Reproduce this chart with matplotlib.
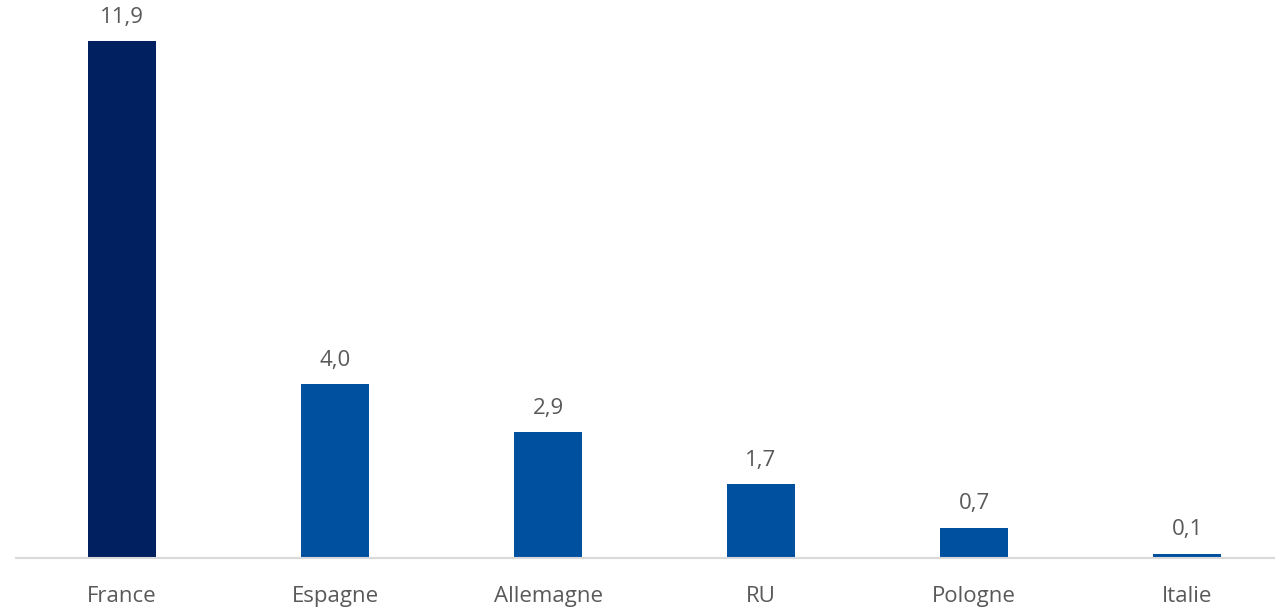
import matplotlib.pyplot as plt

categories = ["France", "Espagne", "Allemagne", "RU", "Pologne", "Italie"]
values = [11.9, 4.0, 2.9, 1.7, 0.7, 0.1]
labels = ["11,9", "4,0", "2,9", "1,7", "0,7", "0,1"]

bar_colors = ["#002060"] + ["#0050A0"] * 5
text_color = "#595959"

plt.rcParams['font.family'] = ['Open Sans', 'DejaVu Sans']

fig = plt.figure(figsize=(12.75, 6.07), dpi=100)
# axis spans slots of ~213px, first slot starts at x=15.5
ax = fig.add_axes([15.5 / 1275, 49 / 607, 1278 / 1275, 558 / 607])

x = list(range(len(categories)))
ax.bar(x, values, width=0.315, color=bar_colors)
ax.set_xlim(-0.5, len(categories) - 0.5)
ax.set_ylim(0, 558 / 43.45)

for xi, v, lab in zip(x, values, labels):
    ax.annotate(lab, (xi, v), xytext=(0, 9.5), textcoords="offset points",
                ha="center", va="bottom", fontsize=16, color=text_color)

ax.set_xticks(x)
ax.set_xticklabels(categories, fontsize=16, color=text_color)
ax.tick_params(axis="x", length=0, pad=20)
ax.set_yticks([])

for s in ["top", "right", "left"]:
    ax.spines[s].set_visible(False)
ax.spines["bottom"].set_color("#D9D9D9")
ax.spines["bottom"].set_linewidth(1.5)

fig.savefig("out.png", dpi=100)
